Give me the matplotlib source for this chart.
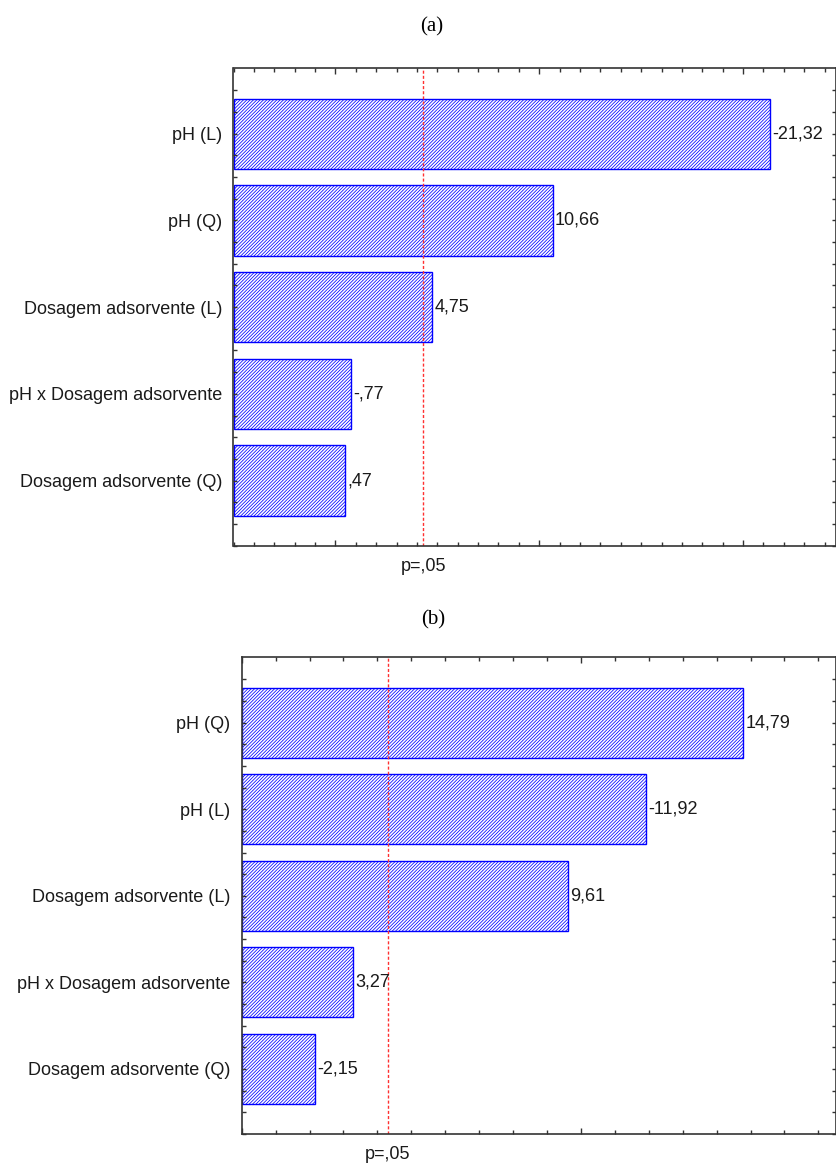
import numpy as np
import matplotlib
matplotlib.use("Agg")
import matplotlib.pyplot as plt
from matplotlib.ticker import MultipleLocator, FixedLocator

plt.rcParams['font.family'] = ['Liberation Sans', 'DejaVu Sans']
plt.rcParams['hatch.linewidth'] = 0.55

# efeitos padronizados (t) para cada planejamento, do maior para o menor
termos_a = ["pH (L)", "pH (Q)", "Dosagem adsorvente (L)",
            "pH x Dosagem adsorvente", "Dosagem adsorvente (Q)"]
efeitos_a = [-21.32, 10.66, 4.75, -0.77, 0.47]

termos_b = ["pH (Q)", "pH (L)", "Dosagem adsorvente (L)",
            "pH x Dosagem adsorvente", "Dosagem adsorvente (Q)"]
efeitos_b = [14.79, -11.92, 9.61, 3.27, -2.15]

t_crit = 4.303          # t(0,05; 2 g.l.)
xlim_a = (-5.0, 24.56)
xlim_b = (0.0, 17.52)


def fmt(v):
    # estilo STATISTICA: virgula decimal e sem zero a esquerda
    s = f"{abs(v):.2f}".replace('.', ',')
    if s.startswith('0'):
        s = s[1:]
    return ('-' if v < 0 else '') + s


def pareto(ax, termos, efeitos, xlim):
    y = np.arange(len(termos))
    x0 = xlim[0]
    larg = np.abs(efeitos) - x0
    ax.barh(y, larg, left=x0, height=0.81, color='white', edgecolor='blue',
            linewidth=1.0, hatch='/' * 10)
    for yi, v in zip(y, efeitos):
        ax.text(abs(v) + 0.12 * (xlim[1] - xlim[0]) / 30, yi, fmt(v),
                ha='left', va='center', fontsize=13, color='#1a1a1a')
    ax.axvline(t_crit, color='#ff3030', lw=1.0, ls=(0, (2.2, 1.5)))
    ax.text(t_crit, -0.042, "p=,05", transform=ax.get_xaxis_transform(),
            ha='center', va='center', fontsize=13, color='#1a1a1a')

    ax.set_xlim(*xlim)
    ax.set_ylim(len(termos) - 0.245, -0.755)
    ax.set_yticks(y)
    ax.set_yticklabels(termos, fontsize=13, color='#1a1a1a')
    ax.yaxis.set_minor_locator(FixedLocator(np.arange(-0.5, len(termos), 0.25)))
    ax.xaxis.set_major_locator(MultipleLocator(10))
    ax.xaxis.set_minor_locator(MultipleLocator(1))
    ax.set_xticklabels([])
    ax.tick_params(which='both', direction='in', top=True, right=True,
                   color='#333333', width=1.0)
    ax.tick_params(which='major', axis='x', length=4.5)
    ax.tick_params(which='minor', length=3)
    ax.tick_params(which='major', axis='y', length=3, pad=8)
    for s in ax.spines.values():
        s.set_linewidth(1.2)
        s.set_color('#333333')


fig = plt.figure(figsize=(8.37, 11.64), dpi=100)
ax_a = fig.add_axes([233.5 / 837, 1 - 546 / 1164, (836 - 233.5) / 837, 477.7 / 1164])
ax_b = fig.add_axes([241.7 / 837, 1 - 1134.3 / 1164, (836 - 241.7) / 837, 477 / 1164])

pareto(ax_a, termos_a, efeitos_a, xlim_a)
pareto(ax_b, termos_b, efeitos_b, xlim_b)

fig.text(432 / 837, 1 - 27 / 1164, "(a)", ha='center', va='center',
         fontsize=15, family='Liberation Serif')
fig.text(433 / 837, 1 - 620 / 1164, "(b)", ha='center', va='center',
         fontsize=15, family='Liberation Serif')

fig.savefig("out.png", dpi=100)
